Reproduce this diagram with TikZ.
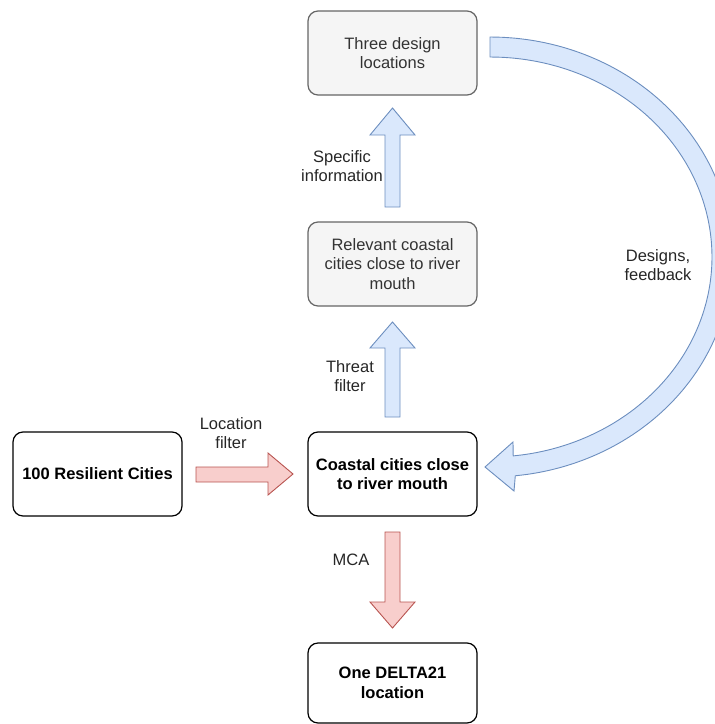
\documentclass[tikz,border=0pt]{standalone}
\usepackage{fontspec}
\setmainfont{Liberation Sans}
\begin{document}
\begin{tikzpicture}[x=1pt,y=-1pt,
  box/.style={draw=black, fill=white, rounded corners=10pt, line width=1.2pt,
    minimum width=169pt, minimum height=84pt, align=center, inner sep=2pt,
    font=\fontsize{16.5}{19.5}\selectfont\bfseries, text=black},
  graybox/.style={box, draw=gray!80!black, fill=black!4, text=black!80,
    font=\fontsize{16.5}{19.5}\selectfont},
  lbl/.style={align=center, text=black!85, font=\fontsize{16.5}{19.5}\selectfont, inner sep=0pt},
  blockblue/.style={draw=blue!35!gray, fill=blue!15!white, line width=0.9pt, line join=miter},
  blockred/.style={draw=red!45!gray, fill=red!20!white, line width=0.9pt, line join=miter}
]
\definecolor{bfill}{HTML}{DAE8FC}
\definecolor{bline}{HTML}{6C8EBF}
\definecolor{rfill}{HTML}{F8CECC}
\definecolor{rline}{HTML}{B85450}
\tikzset{blockblue/.append style={draw=bline, fill=bfill},
         blockred/.append style={draw=rline, fill=rfill}}
\useasboundingbox (0,0) rectangle (715,724);
\clip (0,0) rectangle (715,724);

% nodes
\node[graybox] (three) at (392.5,53) {Three design\\locations};
\node[graybox] (rel) at (392.5,264) {Relevant coastal\\cities close to river\\mouth};
\node[box] (res) at (97.5,474) {100 Resilient Cities};
\node[box] (coast) at (392.5,474) {Coastal cities close\\to river mouth};
\node[box, minimum height=80pt] (one) at (392.5,683) {One DELTA21\\location};

% block arrows
\draw[blockblue] (385,207) -- (385,135) -- (370,135) -- (392.5,108) -- (415,135) -- (400,135) -- (400,207) -- cycle;
\draw[blockblue] (385,417) -- (385,348) -- (370,348) -- (392.5,322) -- (415,348) -- (400,348) -- (400,417) -- cycle;
\draw[blockred] (196,467) -- (268,467) -- (268,453) -- (293,474) -- (268,495) -- (268,482) -- (196,482) -- cycle;
\draw[blockred] (385,532) -- (385,602) -- (370,602) -- (392.5,628) -- (415,602) -- (400,602) -- (400,532) -- cycle;

% curved feedback arrow
\draw[blockblue]
  plot[smooth, samples=60, domain=90:-84, variable=\t] ({490+242*cos(\t)},{257-220*sin(\t)})
  -- (514,491) -- (485,467) -- (513,442)
  -- plot[smooth, samples=60, domain=-84:90, variable=\t] ({490+222*cos(\t)},{257-200*sin(\t)})
  -- cycle;

% labels
\node[lbl] (lspec) at (342,166) {Specific\\information};
\node[lbl] (lthreat) at (350,376) {Threat\\filter};
\node[lbl] (lloc) at (231,433) {Location\\filter};
\node[lbl] (lmca) at (351,560) {MCA};
\node[lbl] (ldes) at (658,265) {Designs,\\feedback};
\end{tikzpicture}
\end{document}
